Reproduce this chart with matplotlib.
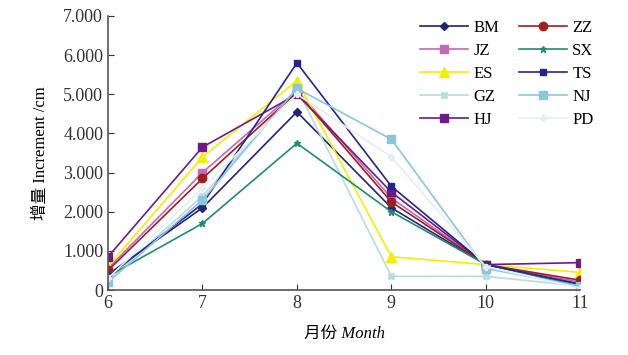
import matplotlib
matplotlib.use("Agg")
import matplotlib.pyplot as plt
from matplotlib.ticker import FuncFormatter

plt.rcParams['font.family'] = ['Liberation Serif', 'Noto Sans CJK SC']

months = [6, 7, 8, 9, 10, 11]

# increment per month (cm)
BM = [0.40, 2.10, 4.55, 2.10, 0.65, 0.15]
ZZ = [0.50, 2.85, 5.05, 2.25, 0.65, 0.25]
JZ = [0.55, 3.00, 5.10, 2.35, 0.65, 0.20]
SX = [0.35, 1.70, 3.75, 2.00, 0.65, 0.10]
ES = [0.60, 3.40, 5.35, 0.85, 0.65, 0.45]
TS = [0.35, 2.20, 5.80, 2.65, 0.65, 0.15]
GZ = [0.25, 2.40, 5.15, 0.35, 0.35, 0.10]
NJ = [0.20, 2.30, 5.15, 3.85, 0.55, 0.10]
HJ = [0.85, 3.65, 5.00, 2.50, 0.65, 0.70]
PD = [0.30, 2.60, 5.00, 3.40, 0.60, 0.05]

# legend runs column-wise: left column first, then right
series = [
    ("BM", BM, "#23237a", "D", 4),
    ("JZ", JZ, "#c568b8", "s", 6),
    ("ES", ES, "#f2f000", "^", 7),
    ("GZ", GZ, "#b9dcdc", "X", 5),
    ("HJ", HJ, "#6b1c86", "s", 6),
    ("ZZ", ZZ, "#9e1f1f", "o", 6),
    ("SX", SX, "#1f8c74", "*", 5),
    ("TS", TS, "#25258f", "s", 5),
    ("NJ", NJ, "#8cc6dc", "s", 6),
    ("PD", PD, "#e6eef2", "P", 5),
]

fig = plt.figure(figsize=(6.28, 3.55), dpi=100)
ax = fig.add_axes([0.172, 0.183, 0.752, 0.772])

for name, vals, col, mk, ms in series:
    ax.plot(months, vals, color=col, marker=mk, markersize=ms, linewidth=1.2, label=name)

ax.set_xlim(6, 11)
ax.set_ylim(0, 7)
ax.set_xticks(months)
ax.set_yticks(range(0, 8))
ax.yaxis.set_major_formatter(FuncFormatter(lambda v, p: "0" if v == 0 else f"{v:.3f}"))
ax.tick_params(direction="in", length=4, labelsize=13, colors="#333333")
for s in ["top", "right"]:
    ax.spines[s].set_visible(False)
for s in ["left", "bottom"]:
    ax.spines[s].set_color("#555555")
    ax.spines[s].set_linewidth(1.2)

ax.set_xlabel("月份 Month", fontsize=12, style="italic", labelpad=10)
ax.set_ylabel("增量 Increment /cm", fontsize=12, labelpad=10)

ax.legend(ncol=2, loc="upper right", bbox_to_anchor=(1.06, 1.04), frameon=False,
          fontsize=12, handlelength=2.9, columnspacing=1.2, labelspacing=0.42,
          handletextpad=0.3)

fig.savefig("out.png", dpi=100)
